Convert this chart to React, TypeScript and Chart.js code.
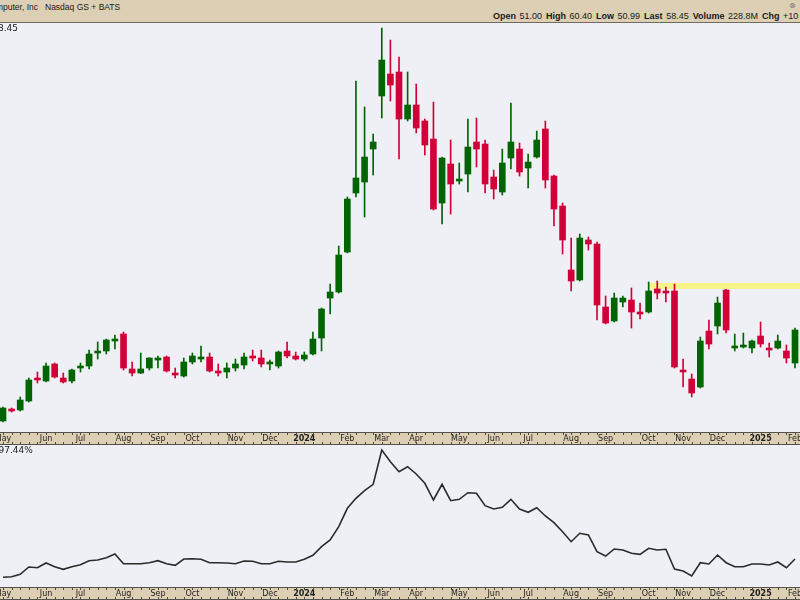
import React, { useEffect, useRef } from "react";
import { Chart, registerables } from "chart.js";

Chart.register(...registerables);

// ---- data (weekly candles, week of 2023-05-01 .. week of 2025-02-03) ----
const opens = [10.38, 13.81, 13.53, 16.1, 22.69, 21.83, 26.7, 22.69, 21.83, 25.55, 26.12, 29.85, 30.42, 33.28, 35.29, 25.27, 24.12, 25.55, 27.84, 28.7, 24.12, 23.26, 27.27, 28.13, 28.7, 24.69, 24.41, 25.55, 26.41, 28.7, 28.41, 26.7, 26.12, 30.42, 28.99, 28.13, 29.56, 34.14, 45.59, 47.31, 58.76, 75.65, 78.8, 88.25, 103.43, 109.72, 110.3, 96.84, 100.85, 96.27, 91.11, 72.79, 83.96, 79.09, 81.09, 90.26, 89.68, 80.23, 75.94, 85.67, 88.25, 82.81, 85.96, 93.98, 80.52, 71.93, 53.61, 50.75, 62.2, 61.05, 43.02, 39.01, 44.45, 45.02, 41.58, 41.58, 48.17, 47.6, 47.6, 24.69, 22.4, 20.11, 36.14, 37.58, 47.88, 31.28, 31.56, 31.28, 34.71, 30.99, 31.28, 30.42, 26.98];
const highs = [14.39, 14.1, 17.25, 22.69, 24.41, 26.98, 26.98, 24.12, 25.27, 26.98, 30.7, 33.0, 33.85, 35.0, 35.86, 27.27, 29.85, 28.5, 28.99, 28.99, 25.55, 28.41, 29.85, 31.85, 29.85, 26.7, 26.98, 28.13, 29.85, 30.7, 30.7, 27.84, 30.42, 33.0, 30.13, 30.13, 35.86, 42.73, 49.6, 60.48, 74.51, 107.72, 100.28, 92.55, 122.89, 119.46, 114.59, 110.3, 106.86, 96.84, 101.71, 85.96, 90.83, 84.24, 96.84, 97.13, 90.83, 82.24, 88.25, 101.42, 89.97, 86.82, 93.4, 96.27, 80.81, 72.79, 62.77, 63.92, 63.06, 61.63, 46.17, 47.02, 46.17, 48.46, 44.16, 50.17, 50.46, 48.74, 49.6, 28.13, 23.83, 34.43, 39.29, 45.88, 48.1, 35.29, 35.57, 33.57, 38.72, 32.71, 35.0, 32.14, 37.0];
const lows = [10.09, 12.95, 13.24, 15.82, 21.26, 21.54, 22.69, 21.26, 21.26, 24.41, 25.27, 28.13, 29.56, 30.99, 24.98, 23.26, 23.95, 24.98, 25.55, 24.41, 22.69, 22.97, 26.7, 27.27, 24.41, 23.26, 22.69, 24.69, 25.27, 27.56, 25.84, 24.98, 25.55, 28.41, 27.84, 27.56, 29.27, 30.42, 41.01, 47.0, 58.5, 74.51, 68.78, 80.81, 97.13, 101.99, 85.39, 96.27, 92.83, 86.53, 70.79, 66.78, 69.64, 78.23, 75.94, 83.1, 75.65, 73.94, 75.08, 82.53, 80.52, 77.09, 85.67, 77.09, 66.21, 58.19, 47.6, 50.46, 59.33, 39.29, 38.15, 38.72, 43.02, 37.0, 39.58, 41.3, 45.31, 44.45, 25.55, 20.11, 17.25, 19.83, 30.99, 35.29, 35.57, 30.42, 31.28, 29.85, 31.56, 28.7, 30.99, 26.98, 25.55];
const closes = [14.1, 13.24, 16.39, 22.12, 22.12, 26.12, 22.97, 21.54, 24.98, 26.12, 29.56, 30.42, 33.57, 33.85, 25.55, 24.12, 25.27, 28.41, 28.13, 24.69, 23.55, 27.27, 28.99, 28.7, 24.69, 24.12, 25.55, 26.7, 28.7, 28.41, 26.7, 27.27, 30.13, 28.99, 28.13, 29.27, 33.85, 42.44, 47.31, 57.9, 73.94, 79.95, 85.96, 90.26, 113.73, 106.57, 96.84, 100.85, 94.26, 89.4, 71.07, 85.67, 78.23, 79.66, 88.82, 88.25, 78.23, 76.8, 84.24, 90.26, 81.67, 84.53, 90.83, 79.38, 71.07, 62.2, 50.46, 62.77, 61.05, 43.59, 38.44, 45.59, 45.59, 41.58, 41.01, 47.6, 47.02, 47.02, 25.84, 24.41, 18.39, 33.28, 32.42, 44.16, 36.43, 31.56, 32.14, 33.28, 32.42, 30.7, 33.28, 28.41, 36.43];
// lower panel line (relative performance line)
const relValues = [9.7, 10.3, 12.7, 20, 19.3, 24, 20.3, 17.7, 20.3, 22.3, 26.3, 27, 29.3, 33, 23.3, 23.3, 23.3, 24.3, 26.3, 23.3, 21.7, 28, 28.3, 27.7, 24.3, 24.3, 24, 23.3, 26, 25.7, 23.3, 23.3, 25.7, 25, 25, 27.7, 31.7, 40.3, 47, 60.3, 78.7, 88.7, 96.3, 102.7, 137, 125.3, 115.3, 120.3, 113, 103.7, 87, 102.7, 86.3, 87.7, 94.3, 93.7, 81.3, 78, 79.7, 87.7, 78, 74.7, 79.3, 71, 64.3, 55.3, 45.3, 53.7, 52, 35.3, 31, 38, 37, 33.7, 32.7, 38.7, 37, 37.7, 18, 16, 11, 24.3, 23, 32, 24.3, 20.3, 20.3, 23, 23, 22, 25, 19.3, 28];

const firstWeek = "2023-05-01";
const weekNumbers = opens.map((_, i) => i + 1);
const weekLabels = weekNumbers.map((n) => {
  const d = new Date(firstWeek + "T00:00:00Z");
  d.setUTCDate(d.getUTCDate() + (n - 1) * 7);
  return d.toISOString().slice(0, 10);
});

const monthTickWeeks = [1, 6, 10, 15, 19, 23, 28, 32, 36, 41, 45, 49, 54, 58, 62, 67, 71, 76, 80, 84, 89, 93];
const monthTickLabels = ["May", "Jun", "Jul", "Aug", "Sep", "Oct", "Nov", "Dec", "2024", "Feb", "Mar", "Apr", "May", "Jun", "Jul", "Aug", "Sep", "Oct", "Nov", "Dec", "2025", "Feb"];

const zoneStartWeek = 76;
const zonePrices = [48.2, 49.9];

const priceLabel = "58.45";
const relLabel = "97.44%";
const titleName = "Super Micro Computer, Inc";
const titleExchange = "Nasdaq GS + BATS";
const quoteLabels = ["Open", "High", "Low", "Last", "Volume", "Chg"];
const quoteValues = ["51.00", "60.40", "50.99", "58.45", "228.8M", "+10"];

// ---- style ----
const BG = "#eff0f5";
const BEIGE = "#dccfb3";
const UP = "#006400";
const DOWN = "#d20038";
const X_MIN = 0.6515;
const X_MAX = 93.58;

function makeXScale(): any {
  return {
    type: "linear",
    min: X_MIN,
    max: X_MAX,
    position: "bottom",
    offset: false,
    grid: { display: false, drawTicks: false },
    border: { display: false },
    afterBuildTicks: (s: any) => {
      s.ticks = monthTickWeeks.map((v) => ({ value: v }));
    },
    afterFit: (s: any) => {
      s.height = 13;
      s.paddingLeft = 0;
      s.paddingRight = 0;
    },
    ticks: {
      autoSkip: false,
      maxRotation: 0,
      minRotation: 0,
      padding: 2,
      color: "#1e1e1e",
      font: (ctx: any) => ({
        family: "DejaVu Sans",
        size: 8,
        weight: /^\d{4}$/.test(monthTickLabels[ctx.index] || "") ? "bold" : "normal",
      }),
      callback: (v: any) => {
        const k = monthTickWeeks.indexOf(Number(v));
        return k >= 0 ? monthTickLabels[k] : "";
      },
    },
  };
}

function bandPlugin(label: string, labelX: number, align: CanvasTextAlign, id: string) {
  return {
    id,
    beforeDraw(chart: any) {
      const { ctx } = chart;
      const xs = chart.scales.x;
      ctx.save();
      ctx.fillStyle = BEIGE;
      ctx.fillRect(0, xs.top, chart.width, xs.bottom - xs.top);
      ctx.restore();
    },
    afterDraw(chart: any) {
      const { ctx } = chart;
      const xs = chart.scales.x;
      ctx.save();
      ctx.fillStyle = "#55524c";
      ctx.fillRect(0, xs.top, chart.width, 1);
      ctx.fillRect(0, xs.bottom - 1, chart.width, 1);
      ctx.fillStyle = "#4a4a4a";
      for (const w of weekNumbers) {
        const px = Math.round(xs.getPixelForValue(w));
        ctx.fillRect(px, xs.top + 1, 1, 2);
        ctx.fillRect(px, xs.bottom - 3, 1, 2);
      }
      ctx.fillStyle = "#202020";
      ctx.font = "9px 'DejaVu Sans'";
      ctx.textAlign = align;
      ctx.textBaseline = "middle";
      ctx.fillText(label, labelX, chart.chartArea.top + 6);
      ctx.restore();
    },
  };
}

const zonePlugin = {
  id: "zone",
  beforeDatasetsDraw(chart: any) {
    const { ctx } = chart;
    const xs = chart.scales.x;
    const ys = chart.scales.y;
    const x0 = xs.getPixelForValue(zoneStartWeek) - 0.5;
    const y0 = ys.getPixelForValue(zonePrices[1]);
    const y1 = ys.getPixelForValue(zonePrices[0]);
    ctx.save();
    ctx.fillStyle = "rgba(250, 245, 110, 0.8)";
    ctx.fillRect(x0, y0, chart.chartArea.right - x0, y1 - y0);
    ctx.restore();
  },
};

export default function App() {
  const topRef = useRef<HTMLCanvasElement>(null);
  const botRef = useRef<HTMLCanvasElement>(null);

  useEffect(() => {
    const colors = opens.map((o, i) => (closes[i] >= o ? UP : DOWN));
    const common: any = {
      responsive: false,
      maintainAspectRatio: false,
      devicePixelRatio: 1,
      animation: false,
      events: [],
      layout: { padding: 0 },
      plugins: { legend: { display: false }, tooltip: { enabled: false }, title: { display: false } },
    };
    const top = new Chart(topRef.current as HTMLCanvasElement, {
      type: "bar",
      data: {
        labels: weekLabels,
        datasets: [
          {
            label: "body",
            data: weekNumbers.map((w, i) => ({ x: w, y: [opens[i], closes[i]] })) as any,
            backgroundColor: colors,
            borderWidth: 0,
            barThickness: 6,
            minBarLength: 2,
            stack: "c",
          } as any,
          {
            label: "wick",
            data: weekNumbers.map((w, i) => ({ x: w, y: [lows[i], highs[i]] })) as any,
            backgroundColor: colors,
            borderWidth: 0,
            barThickness: 1,
            stack: "c",
          } as any,
        ],
      },
      options: {
        ...common,
        scales: {
          x: makeXScale(),
          y: { type: "linear", display: false, min: 7.23, max: 124.33, stacked: false },
        },
      },
      plugins: [bandPlugin(priceLabel, 18, "right", "bandTop"), zonePlugin],
    } as any);

    const bot = new Chart(botRef.current as HTMLCanvasElement, {
      type: "line",
      data: {
        labels: weekLabels,
        datasets: [
          {
            label: "rel",
            data: weekNumbers.map((w, i) => ({ x: w, y: relValues[i] })) as any,
            borderColor: "#2b2b2b",
            borderWidth: 1.6,
            pointRadius: 0,
            tension: 0,
            fill: false,
          },
        ],
      },
      options: {
        ...common,
        scales: {
          x: makeXScale(),
          y: { type: "linear", display: false, min: 0, max: 142 },
        },
      },
      plugins: [bandPlugin(relLabel, -1.5, "left", "bandBot")],
    } as any);

    return () => {
      top.destroy();
      bot.destroy();
    };
  }, []);

  return (
    <div style={{ position: "fixed", left: 0, top: 0, width: 800, height: 600, overflow: "hidden", background: BG }}>
      <div
        style={{
          position: "absolute",
          left: 0,
          top: 0,
          width: 800,
          height: 22,
          background: BEIGE,
          borderBottom: "1px solid #6f6b63",
          overflow: "hidden",
          color: "#1a1a1a",
        }}
      >
        <span style={{ position: "absolute", right: 762, top: 2, whiteSpace: "nowrap", font: "8.5px 'Liberation Sans'", lineHeight: "10px" }}>
          {titleName}
        </span>
        <span style={{ position: "absolute", left: 45, top: 2, whiteSpace: "nowrap", font: "8.5px 'Liberation Sans'", lineHeight: "10px" }}>
          {titleExchange}
        </span>
        <span style={{ position: "absolute", left: 789, top: 1, font: "8px 'DejaVu Sans'", color: "#777", lineHeight: "10px" }}>⊗</span>
        <div style={{ position: "absolute", left: 493, top: 11, whiteSpace: "nowrap", font: "9px 'Liberation Sans'", lineHeight: "11px" }}>
          {quoteLabels.map((l, i) => (
            <span key={l} style={{ marginRight: 4 }}>
              <b>{l}</b>
              <span style={{ marginLeft: 3.5 }}>{quoteValues[i]}</span>
            </span>
          ))}
        </div>
      </div>
      <canvas ref={topRef} width={800} height={422} style={{ position: "absolute", left: 0, top: 23, width: 800, height: 422 }} />
      <canvas ref={botRef} width={800} height={155} style={{ position: "absolute", left: 0, top: 445, width: 800, height: 155 }} />
    </div>
  );
}
